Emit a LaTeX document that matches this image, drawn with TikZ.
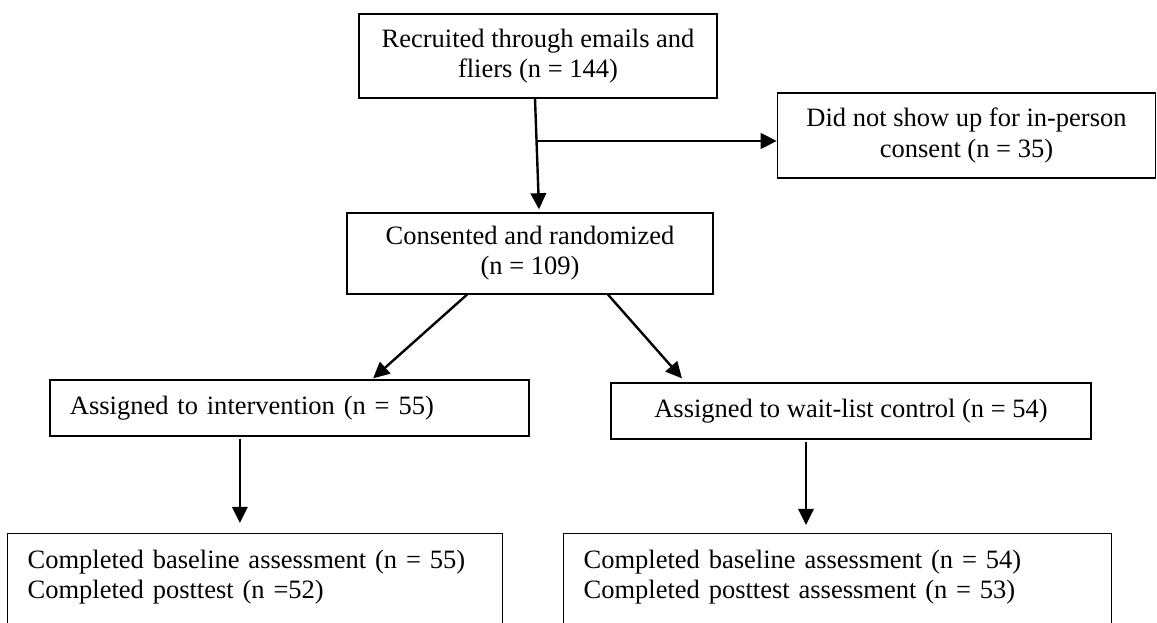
\documentclass[tikz,border=0pt]{standalone}
\usepackage{fontspec}
\setmainfont{Liberation Serif}
\usepackage{tikz}
\usetikzlibrary{positioning,arrows.meta,calc}

\begin{document}
\begin{tikzpicture}[
    x=0.025cm, y=-0.025cm,
    box/.style={draw, line width=0.9pt, inner xsep=0.5cm, align=center,
        font=\fontsize{18.85}{21.4}\selectfont},
    lbox/.style={box, align=left, anchor=north west, inner ysep=0.4cm, text depth=3cm},
    arr/.style={line width=1.7pt, -{Triangle[length=11.5pt,width=11pt]}}
]
\useasboundingbox (0,0) rectangle (1157,623);

\node[box, minimum width=8.95cm, minimum height=2.1cm] (recruit) at (538,56)
    {Recruited through emails and\\fliers (n = 144)};
\node[box, minimum width=9.45cm, minimum height=2.125cm] (noshow) at (966.5,135.5)
    {Did not show up for in-person\\consent (n = 35)};
\node[box, minimum width=9.15cm, minimum height=2.025cm] (consent) at (530,253.5)
    {Consented and randomized\\(n = 109)};

\node[box, align=left, text width=10.975cm, minimum height=1.4cm] (interv) at (289.5,408)
    {Assigned to intervention (n = 55)};
\node[box, minimum width=12cm, minimum height=1.4cm] (wait) at (851,411)
    {Assigned to wait-list control (n = 54)};

\node[lbox, text width=11.375cm] (done1) at (7,533)
    {Completed baseline assessment (n = 55)\\Completed posttest (n =52)};
\node[lbox, text width=12.7cm] (done2) at (563,533)
    {Completed baseline assessment (n = 54)\\Completed posttest assessment (n = 53)};

% flow
\draw[arr] ([xshift=-0.075cm]recruit.south) -- ([xshift=0.225cm,yshift=0.075cm]consent.north);
\coordinate (split) at (537,141);
\draw[arr] (split) -- (split -| noshow.west);
\draw[arr] ([xshift=-1.575cm]consent.south) -- ([xshift=2.09cm,yshift=0.025cm]interv.north);
\draw[arr] ([xshift=1.95cm]consent.south) -- ([xshift=-4.225cm,yshift=0.1cm]wait.north);
\draw[arr] ([xshift=-1.24cm,yshift=-0.05cm]interv.south) -- ([xshift=-1.24cm,yshift=0.25cm]interv.south |- done1.north);
\draw[arr] ([xshift=-1.125cm,yshift=-0.05cm]wait.south) -- ([xshift=-1.125cm,yshift=0.2cm]wait.south |- done2.north);
\end{tikzpicture}
\end{document}
